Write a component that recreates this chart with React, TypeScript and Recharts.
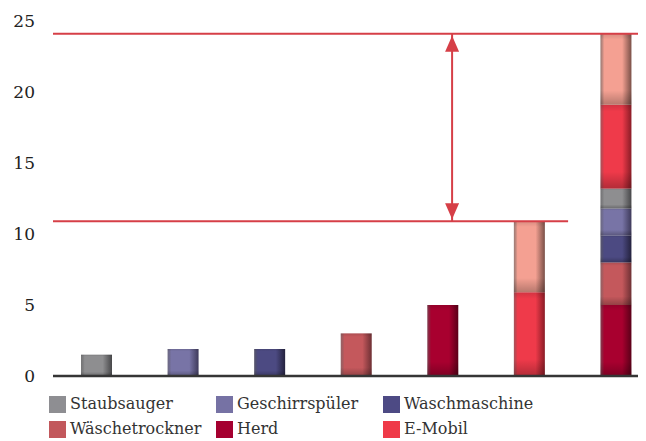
import { BarChart, Bar, XAxis, YAxis, ReferenceLine } from "recharts";

const categories = ["Staubsauger", "Geschirrspüler", "Waschmaschine", "Wäschetrockner", "Herd", "E-Mobil", "Summe"];

const staubsauger = [1.5, null, null, null, null, null, 1.4];
const geschirrspueler = [null, 1.9, null, null, null, null, 1.9];
const waschmaschine = [null, null, 1.9, null, null, null, 1.9];
const waeschetrockner = [null, null, null, 3, null, null, 3];
const herd = [null, null, null, null, 5, null, 5];
const eMobil = [null, null, null, null, null, 5.9, 5.9];
const zuwachs = [null, null, null, null, null, 5, 5];

const yTicks = [0, 5, 10, 15, 20, 25];

// levels of the two red markers and the arrow position (in category units)
const levelHigh = 24.1;
const levelLow = 10.9;
const lowLineEnd = 5.95;
const arrowAt = 4.61;

// stacking order bottom -> top
const series = [
  { key: "Herd", values: herd, color: "#a8002f", dark: "#5a0018" },
  { key: "Wäschetrockner", values: waeschetrockner, color: "#c4585c", dark: "#6e3034" },
  { key: "Waschmaschine", values: waschmaschine, color: "#4c4a82", dark: "#24223e" },
  { key: "Geschirrspüler", values: geschirrspueler, color: "#7874a6", dark: "#3e3a5a" },
  { key: "Staubsauger", values: staubsauger, color: "#8e8e90", dark: "#474749" },
  { key: "E-Mobil", values: eMobil, color: "#ef3a4a", dark: "#8a1c26" },
  { key: "Zuwachs", values: zuwachs, color: "#f4a092", dark: "#7a5048" },
];

const legendItems = [
  { name: "Staubsauger", color: "#8e8e92" },
  { name: "Geschirrspüler", color: "#7672a4" },
  { name: "Waschmaschine", color: "#4d4a84" },
  { name: "Wäschetrockner", color: "#c2585c" },
  { name: "Herd", color: "#a50030" },
  { name: "E-Mobil", color: "#ef3a48" },
];

const data = categories.map((name, i) => {
  const row: Record<string, any> = { name, pos: i + 0.5 };
  series.forEach((s) => {
    row[s.key] = s.values[i];
  });
  return row;
});

const red = "#d63f47";
const font = "DejaVu Serif";

const gid = (key: string) => "g" + key.replace(/[^a-zA-Z]/g, "");

const ShadedBar = (props: any) => {
  const { x, y, width, height, id } = props;
  if (!height || height <= 0) return null;
  return (
    <g>
      <rect x={x} y={y} width={width} height={height} fill={`url(#${id})`} />
      <rect x={x} y={y} width={width} height={height} fill="url(#vshade)" />
    </g>
  );
};

export default function App() {
  return (
    <div style={{ fontFamily: font }}>
      <div style={{ width: 638, overflow: "hidden" }}>
        <BarChart
          width={660}
          height={380}
          data={data}
          margin={{ top: 13, right: 9, left: 0, bottom: 10 }}
        >
          <defs>
            {series.map((s) => (
              <linearGradient key={s.key} id={gid(s.key)} x1="0" y1="0" x2="1" y2="0">
                <stop offset="0" stopColor={s.dark} stopOpacity={0.75} />
                <stop offset="0.12" stopColor={s.color} />
                <stop offset="0.7" stopColor={s.color} />
                <stop offset="1" stopColor={s.dark} />
              </linearGradient>
            ))}
            <linearGradient id="vshade" x1="0" y1="0" x2="0" y2="1">
              <stop offset="0" stopColor="#000" stopOpacity={0.12} />
              <stop offset="0.08" stopColor="#000" stopOpacity={0} />
              <stop offset="0.8" stopColor="#000" stopOpacity={0} />
              <stop offset="1" stopColor="#000" stopOpacity={0.25} />
            </linearGradient>
            <marker
              id="arrowHead"
              viewBox="0 0 16 14"
              refX={18}
              refY={7}
              markerWidth={16}
              markerHeight={14}
              markerUnits="userSpaceOnUse"
              orient="auto-start-reverse"
            >
              <path d="M0,0 L16,7 L0,14 z" fill={red} />
            </marker>
          </defs>
          <XAxis
            dataKey="name"
            tick={false}
            tickLine={false}
            axisLine={{ stroke: "#353535", strokeWidth: 2.5 }}
            height={2}
          />
          <XAxis
            xAxisId="n"
            dataKey="pos"
            type="number"
            domain={[0, 7]}
            allowDataOverflow
            hide
          />
          <YAxis
            domain={[0, 25]}
            ticks={yTicks}
            axisLine={false}
            tickLine={false}
            tickMargin={12}
            width={45}
            tick={{ fill: "#222", fontSize: 17, fontFamily: font }}
          />
          {series.map((s) => (
            <Bar
              key={s.key}
              dataKey={s.key}
              stackId="s"
              barSize={31}
              fill={s.color}
              isAnimationActive={false}
              shape={(p: any) => <ShadedBar {...p} id={gid(s.key)} />}
            />
          ))}
          <ReferenceLine y={levelHigh} stroke={red} strokeWidth={2} />
          <ReferenceLine
            xAxisId="n"
            segment={[
              { x: 0, y: levelLow },
              { x: lowLineEnd, y: levelLow },
            ]}
            stroke={red}
            strokeWidth={2}
          />
          <ReferenceLine
            xAxisId="n"
            segment={[
              { x: arrowAt, y: levelLow },
              { x: arrowAt, y: levelHigh },
            ]}
            shape={(p: any) => (
              <line
                x1={p.x1}
                y1={p.y1}
                x2={p.x2}
                y2={p.y2}
                stroke={red}
                strokeWidth={2}
                markerStart="url(#arrowHead)"
                markerEnd="url(#arrowHead)"
              />
            )}
          />
        </BarChart>
      </div>
      <div
        style={{
          display: "grid",
          gridTemplateColumns: "167px 167px 167px",
          rowGap: 7,
          marginLeft: 41,
          marginTop: 7,
        }}
      >
        {legendItems.map((it) => (
          <div key={it.name} style={{ display: "flex", alignItems: "center", height: 18 }}>
            <span
              style={{
                display: "inline-block",
                width: 17,
                height: 17,
                background: it.color,
                marginRight: 4,
              }}
            />
            <span style={{ fontSize: 16, color: "#333", lineHeight: "18px" }}>{it.name}</span>
          </div>
        ))}
      </div>
    </div>
  );
}
